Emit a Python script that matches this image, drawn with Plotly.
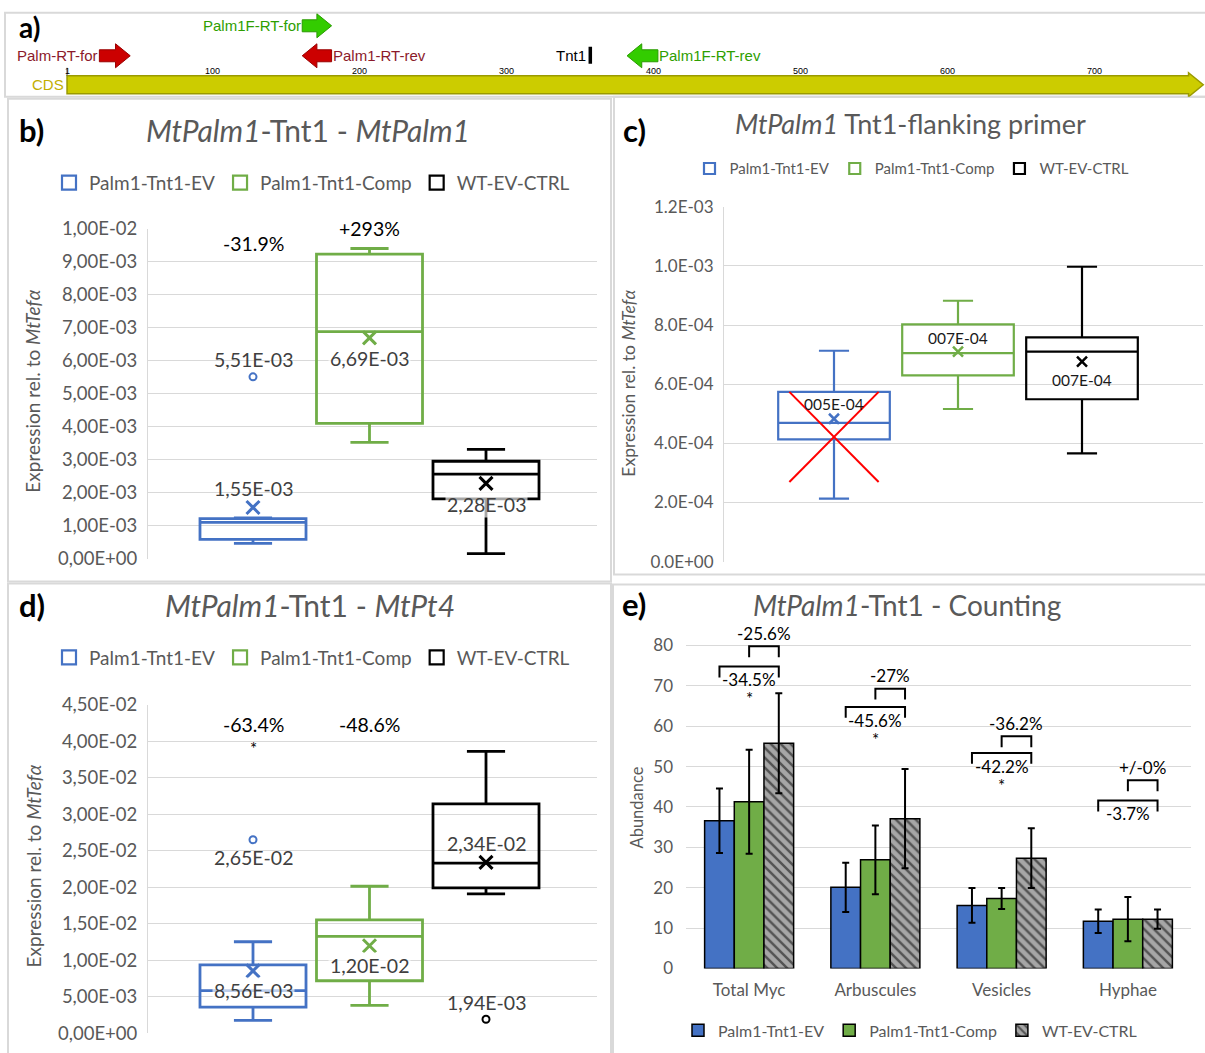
import plotly.graph_objects as go

W, H = 1205, 1053
FONT = "Lato"
ARIAL = "Liberation Sans"
TXT = "#595959"
LBL = "#404040"
GRID = "#d9d9d9"
BLUE, GREEN, BLACK = "#4472C4", "#70AD47", "#000000"

# ---------------- data ----------------
groups = ["Palm1-Tnt1-EV", "Palm1-Tnt1-Comp", "WT-EV-CTRL"]
group_colors = [BLUE, GREEN, BLACK]

# (a) MtPalm1 coding sequence, positions in bp
cds_length = 774
cds_ticks = [1, 100, 200, 300, 400, 500, 600, 700]
primer_names = ["Palm-RT-for", "Palm1F-RT-for", "Palm1-RT-rev", "Palm1F-RT-rev"]
primer_start = [23, 161, 161, 382]
primer_end = [44, 181, 181, 403]
primer_strand = [1, 1, -1, -1]
primer_pair = ["RT", "flanking", "RT", "flanking"]
tnt1_insertion = 357

# (b) MtPalm1 expression (box statistics)
b_low = [0.46e-3, 3.52e-3, 0.15e-3]
b_q1 = [0.58e-3, 4.10e-3, 1.81e-3]
b_median = [1.10e-3, 6.88e-3, 2.56e-3]
b_q3 = [1.21e-3, 9.23e-3, 2.95e-3]
b_high = [1.23e-3, 9.40e-3, 3.31e-3]
b_mean = [1.55e-3, 6.69e-3, 2.28e-3]
b_outliers = [[5.51e-3], [], []]
b_change = ["-31.9%", "+293%", None]
b_tickvals = [0, 1e-3, 2e-3, 3e-3, 4e-3, 5e-3, 6e-3, 7e-3, 8e-3, 9e-3, 1e-2]
b_ticktext = ["0,00E+00", "1,00E-03", "2,00E-03", "3,00E-03", "4,00E-03", "5,00E-03",
              "6,00E-03", "7,00E-03", "8,00E-03", "9,00E-03", "1,00E-02"]

# (c) Tnt1-flanking primer expression
c_low = [2.13e-4, 5.16e-4, 3.66e-4]
c_q1 = [4.13e-4, 6.30e-4, 5.49e-4]
c_median = [4.69e-4, 7.05e-4, 7.10e-4]
c_q3 = [5.74e-4, 8.02e-4, 7.58e-4]
c_high = [7.13e-4, 8.82e-4, 9.97e-4]
c_mean = [4.83e-4, 7.10e-4, 6.76e-4]
c_labels = ["005E-04", "007E-04", "007E-04"]
c_excluded = [True, False, False]
c_cross_low = 2.69e-4
c_tickvals = [0, 2e-4, 4e-4, 6e-4, 8e-4, 1e-3, 1.2e-3]
c_ticktext = ["0.0E+00", "2.0E-04", "4.0E-04", "6.0E-04", "8.0E-04", "1.0E-03", "1.2E-03"]

# (d) MtPt4 expression
d_low = [1.77e-3, 3.82e-3, 1.91e-2]
d_q1 = [3.60e-3, 7.20e-3, 1.99e-2]
d_median = [5.86e-3, 1.328e-2, 2.33e-2]
d_q3 = [9.37e-3, 1.554e-2, 3.14e-2]
d_high = [1.254e-2, 2.013e-2, 3.86e-2]
d_mean = [8.56e-3, 1.20e-2, 2.34e-2]
d_outliers = [[2.65e-2], [], [1.94e-3]]
d_change = ["-63.4%", "-48.6%", None]
d_significant = [True, False, False]
d_tickvals = [0, 5e-3, 1e-2, 1.5e-2, 2e-2, 2.5e-2, 3e-2, 3.5e-2, 4e-2, 4.5e-2]
d_ticktext = ["0,00E+00", "5,00E-03", "1,00E-02", "1,50E-02", "2,00E-02", "2,50E-02",
              "3,00E-02", "3,50E-02", "4,00E-02", "4,50E-02"]

# (e) colonisation counting
e_categories = ["Total Myc", "Arbuscules", "Vesicles", "Hyphae"]
e_mean = [[36.6, 20.1, 15.6, 11.7],
          [41.3, 26.9, 17.3, 12.2],
          [55.8, 37.1, 27.3, 12.2]]
e_sd = [[8.0, 6.1, 4.3, 2.9],
        [12.9, 8.5, 2.6, 5.5],
        [12.4, 12.3, 7.4, 2.4]]
e_comp_vs_wt = ["-25.6%", "-27%", "-36.2%", "+/-0%"]
e_ev_vs_wt = ["-34.5%", "-45.6%", "-42.2%", "-3.7%"]
e_ev_significant = [True, True, True, False]

# ---------------- layout helpers (screen pixel -> paper) ----------------
V_SCALE, V_OFF = 0.9795, 10.2


def px(x):
    return x / W


def py(y):
    return 1 - ((y - V_OFF) / V_SCALE) / H


def clamp(v):
    return max(0.0, min(1.0, v))


def dom_x(a, b):
    return [a / W, b / W]


def dom_y(top, bottom):
    return [clamp(py(bottom)), clamp(py(top))]


fig = go.Figure()
annotations = []
shapes = []


def note(x, y, text, size, color=TXT, xref="paper", yref="paper", **kw):
    kw.setdefault("xanchor", "center")
    kw.setdefault("yanchor", "middle")
    annotations.append(dict(x=x, y=y, xref=xref, yref=yref, text=text, showarrow=False,
                            font=dict(family=kw.pop("family", FONT), size=size, color=color), **kw))


# ---------------- panel frames ----------------
for (x0, y0, x1, y1) in [(5, 11, 1210, 95), (8, 97, 611, 580), (614, 95, 1210, 573),
                         (8, 582, 611, 1075), (613, 583, 1210, 1075)]:
    shapes.append(dict(type="rect", xref="paper", yref="paper", x0=px(x0), x1=px(x1),
                       y0=py(y1), y1=min(py(y0), 0.9995), line=dict(color=GRID, width=2),
                       layer="below"))

# ---------------- (a) gene model ----------------
AX, AY = "x5", "y5"
A_TOP, A_BOTTOM = 11, 95
HEAD = 10  # arrow head length in bp
shapes.append(dict(type="path", xref=AX, yref=AY,
                   path=(f"M 1,74 L {cds_length - HEAD},74 L {cds_length - HEAD},71 L {cds_length},83 "
                         f"L {cds_length - HEAD},95 L {cds_length - HEAD},92 L 1,92 Z"),
                   fillcolor="#CCCC00", line=dict(color="#9A9A00", width=1.5)))
note(1, 83, "CDS", 15, "#C2AE00", AX, AY, family=ARIAL, xanchor="right", xshift=-1)
for t in cds_ticks:
    note(t, 69, str(t), 9, "#000000", AX, AY, family=ARIAL)
shapes.append(dict(type="line", xref=AX, yref=AY, x0=1, x1=1, y0=66, y1=74,
                   line=dict(color="#555555", width=1)))

# stack overlapping primers into lanes (lane 0 lowest)
lane_y = [54, 24]
occupied = {}
lane_of = {}
for i in sorted(range(len(primer_names)), key=lambda k: (primer_start[k], primer_strand[k])):
    lane = 0
    while any(not (primer_end[i] < s or primer_start[i] > e) for s, e in occupied.get(lane, [])):
        lane += 1
    occupied.setdefault(lane, []).append((primer_start[i], primer_end[i]))
    lane_of[i] = lane

pair_style = {"RT": ("#CC0000", "#990000", "#8B1A2B"),
              "flanking": ("#33CC00", "#2A9A00", "#2E9E00")}
for i, name in enumerate(primer_names):
    s, e = primer_start[i], primer_end[i]
    y = lane_y[lane_of[i]]
    fill, edge, txt = pair_style[primer_pair[i]]
    if primer_strand[i] > 0:
        path = (f"M {s},{y - 6} L {e - HEAD},{y - 6} L {e - HEAD},{y - 12} L {e},{y} "
                f"L {e - HEAD},{y + 12} L {e - HEAD},{y + 6} L {s},{y + 6} Z")
        note(s, y, name, 15, txt, AX, AY, family=ARIAL, xanchor="right", xshift=1)
    else:
        path = (f"M {e},{y - 6} L {s + HEAD},{y - 6} L {s + HEAD},{y - 12} L {s},{y} "
                f"L {s + HEAD},{y + 12} L {s + HEAD},{y + 6} L {e},{y + 6} Z")
        note(e, y, name, 15, txt, AX, AY, family=ARIAL, xanchor="left", xshift=-1)
    shapes.append(dict(type="path", xref=AX, yref=AY, path=path, fillcolor=fill,
                       line=dict(color=edge, width=1)))

shapes.append(dict(type="rect", xref=AX, yref=AY, x0=tnt1_insertion - 1.2, x1=tnt1_insertion + 1.2,
                   y0=45, y1=62, fillcolor="#000000", line=dict(width=0)))
note(tnt1_insertion - 1.5, 54, "Tnt1", 15, "#000000", AX, AY, family=ARIAL, xanchor="right")

# ---------------- box panels ----------------
def box_panel(xa, ya, leg, low, q1, med, q3, high, mean, outliers, width, lw, cap,
              msize, mwidth, osize):
    for i, g in enumerate(groups):
        c = group_colors[i]
        fig.add_trace(go.Box(x=[i], q1=[q1[i]], median=[med[i]], q3=[q3[i]],
                             lowerfence=[low[i]], upperfence=[high[i]], width=width,
                             whiskerwidth=cap, boxpoints=False, fillcolor="rgba(0,0,0,0)",
                             line=dict(color=c, width=lw), name=g, showlegend=False,
                             xaxis=xa, yaxis=ya, hoverinfo="skip"))
        fig.add_trace(go.Scatter(x=[i], y=[mean[i]], mode="markers", showlegend=False,
                                 marker=dict(symbol="x-thin", size=msize, color=c,
                                             line=dict(color=c, width=mwidth)),
                                 xaxis=xa, yaxis=ya, hoverinfo="skip"))
        if outliers[i]:
            fig.add_trace(go.Scatter(x=[i] * len(outliers[i]), y=outliers[i], mode="markers",
                                     showlegend=False,
                                     marker=dict(symbol="circle-open", size=osize, color=c,
                                                 line=dict(color=c, width=2)),
                                     xaxis=xa, yaxis=ya, hoverinfo="skip"))
        # legend entry
        fig.add_trace(go.Scatter(x=[None], y=[None], mode="markers", name=g, legend=leg,
                                 marker=dict(symbol="square-open", size=14 if leg != "legend2" else 11,
                                             color=c, line=dict(color=c, width=2.2)),
                                 xaxis=xa, yaxis=ya))


def sci_comma(v):
    return f"{v:.2E}".replace(".", ",")


LABEL_BG = "rgba(255,255,255,0.65)"
VAL = 19.5   # value labels in b / d
PCT = 19.5   # percentage labels in b / d

# (b)
box_panel("x", "y", "legend", b_low, b_q1, b_median, b_q3, b_high, b_mean, b_outliers,
          0.91, 2.8, 0.36, 13, 3, 7)
mean_above_b = [True, False, False]
for i in range(3):
    note(i, b_mean[i], sci_comma(b_mean[i]), VAL, LBL, "x", "y",
         yshift=19 if mean_above_b[i] else -21, bgcolor=LABEL_BG if not mean_above_b[i] else None)
    for o in b_outliers[i]:
        note(i, o, sci_comma(o), VAL, LBL, "x", "y", yshift=17)
b_change_y = [9.55e-3, 1.0e-2]
for i, t in enumerate(b_change):
    if t:
        note(i, b_change_y[i], t, PCT, "#000000", "x", "y")

# (c)
box_panel("x2", "y2", "legend2", c_low, c_q1, c_median, c_q3, c_high, c_mean, [[], [], []],
          0.9, 2.2, 0.27, 10, 2.5, 6)
c_label_shift = [15, 14, -18]
for i in range(3):
    note(i, c_mean[i], c_labels[i], 15.5, "#1a1a1a", "x2", "y2", yshift=c_label_shift[i])
    if c_excluded[i]:
        hw = 0.9 / 2 * 0.8
        fig.add_trace(go.Scatter(x=[i - hw, i + hw, None, i + hw, i - hw],
                                 y=[c_q3[i], c_cross_low, None, c_q3[i], c_cross_low],
                                 mode="lines", line=dict(color="#FF0000", width=2),
                                 showlegend=False, xaxis="x2", yaxis="y2", hoverinfo="skip"))

# (d)
box_panel("x3", "y3", "legend3", d_low, d_q1, d_median, d_q3, d_high, d_mean, d_outliers,
          0.91, 2.8, 0.36, 13, 3, 7)
mean_above_d = [False, False, True]
for i in range(3):
    note(i, d_mean[i], sci_comma(d_mean[i]), VAL, LBL, "x3", "y3",
         yshift=19 if mean_above_d[i] else -20, bgcolor=LABEL_BG if not mean_above_d[i] else None)
    for o in d_outliers[i]:
        above = o < d_q1[i]
        note(i, o, sci_comma(o), VAL, LBL, "x3", "y3", yshift=17 if above else -18)
for i, t in enumerate(d_change):
    if t:
        note(i, 4.22e-2, t, PCT, "#000000", "x3", "y3")
    if d_significant[i]:
        note(i, 3.9e-2, "*", 17, "#000000", "x3", "y3")

# ---------------- (e) bar chart ----------------
bar_style = [dict(color=BLUE), dict(color=GREEN),
             dict(color="#A6A6A6", pattern=dict(shape="\\", fgcolor="#000000", bgcolor="#A6A6A6",
                                                 size=7, solidity=0.35, fillmode="overlay"))]
for k, g in enumerate(groups):
    fig.add_trace(go.Bar(x=list(range(len(e_categories))), y=e_mean[k], name=g,
                         marker=dict(line=dict(color="#000000", width=1.5), **bar_style[k]),
                         error_y=dict(type="data", array=e_sd[k], color="#000000",
                                      thickness=2, width=3.5),
                         offsetgroup=str(k), legend="legend4", xaxis="x4", yaxis="y4"))

BW = (1 - 0.295) / 3  # single bar width in category units
upper_h = [79.8, 69.3, 57.5, 46.6]
lower_h = [74.8, 64.8, 53.4, 41.6]
LEG = 2.7
bx, by = [], []
for i in range(len(e_categories)):
    for x0, x1, h in [(i, i + BW, upper_h[i]), (i - BW, i + BW, lower_h[i])]:
        bx += [x0, x0, x1, x1, None]
        by += [h - LEG, h, h, h - LEG, None]
    note(i + BW / 2, upper_h[i] + 3.3, e_comp_vs_wt[i], 17, "#000000", "x4", "y4")
    note(i, lower_h[i] - 3.3, e_ev_vs_wt[i], 17, "#000000", "x4", "y4")
    if e_ev_significant[i]:
        note(i, lower_h[i] - 8.0, "*", 17, "#000000", "x4", "y4")
fig.add_trace(go.Scatter(x=bx, y=by, mode="lines", line=dict(color="#000000", width=2),
                         showlegend=False, xaxis="x4", yaxis="y4", hoverinfo="skip"))

# ---------------- titles, panel letters, axis titles ----------------
note(px(29), py(25), "<b>a)</b>", 28, "#000000")
for x, y, t in [(31, 128, "b)"), (634, 128, "c)"), (32, 603, "d)"), (634, 602, "e)")]:
    note(px(x), py(y), f"<b>{t}</b>", 31, "#000000")
note(px(308), py(128), "<i>MtPalm1</i>-Tnt1 - <i>MtPalm1</i>", 30)
note(px(910), py(122), "<i>MtPalm1</i> Tnt1-flanking primer", 27)
note(px(310), py(603), "<i>MtPalm1</i>-Tnt1 - <i>MtPt4</i>", 30)
note(px(907), py(603), "<i>MtPalm1</i>-Tnt1 - Counting", 28)
ytitle = "Expression rel. to <i>MtTefα</i>"
note(px(33), py(390), ytitle, 19, textangle=-90)
note(px(629), py(382), ytitle, 17.5, textangle=-90)
note(px(33), py(865), ytitle, 19, textangle=-90)
note(px(637), py(806), "Abundance", 16.5, textangle=-90)

# ---------------- axes ----------------
def yax(anchor, domain, rng, tickvals=None, ticktext=None, size=17, line=True):
    d = dict(anchor=anchor, domain=domain, range=rng, showgrid=True, gridcolor=GRID, gridwidth=1,
             zeroline=False, showline=line, linecolor=GRID, linewidth=1, ticks="",
             tickfont=dict(family=FONT, size=size, color=TXT), fixedrange=True,
             ticklabelstandoff=6)
    if tickvals is not None:
        d.update(tickmode="array", tickvals=tickvals, ticktext=ticktext)
    return d


def xax(anchor, domain, rng):
    return dict(anchor=anchor, domain=domain, range=rng, visible=False, fixedrange=True)


legend_common = dict(orientation="h", xanchor="center", yanchor="middle",
                     bgcolor="rgba(0,0,0,0)", itemclick=False, itemdoubleclick=False)

E_TOP = 84  # headroom above the 80 gridline for the bracket labels
e_px_per_unit = (967 - 644) / 80

fig.update_layout(
    width=W, height=H, margin=dict(l=0, r=0, t=0, b=0),
    paper_bgcolor="white", plot_bgcolor="white",
    font=dict(family=FONT, color=TXT),
    boxmode="overlay", barmode="group", bargap=0.295, bargroupgap=0,
    showlegend=True,
    xaxis=xax("y", dom_x(148, 597), [(148 - 253) / 116.5, (597 - 253) / 116.5]),
    yaxis=yax("x", dom_y(227, 557), [0, 0.01], b_tickvals, b_ticktext, size=18.5),
    xaxis2=xax("y2", dom_x(724, 1203), [(724 - 834) / 124, (1203 - 834) / 124]),
    yaxis2=yax("x2", dom_y(205, 560), [0, 1.2e-3], c_tickvals, c_ticktext, size=17),
    xaxis3=xax("y3", dom_x(148, 597), [(148 - 253) / 116.5, (597 - 253) / 116.5]),
    yaxis3=yax("x3", dom_y(703, 1032), [0, 0.045], d_tickvals, d_ticktext, size=18.5),
    xaxis4=dict(anchor="y4", domain=dom_x(686, 1191), range=[-0.5, len(e_categories) - 0.5],
                tickmode="array", tickvals=list(range(len(e_categories))), ticktext=e_categories,
                showgrid=False, zeroline=False, showline=False, ticks="",
                tickfont=dict(family=FONT, size=17, color=TXT), ticklabelstandoff=10,
                fixedrange=True),
    yaxis4=dict(anchor="x4", domain=dom_y(644 - (E_TOP - 80) * e_px_per_unit, 967),
                range=[0, E_TOP], tickmode="array", tickvals=list(range(0, 81, 10)),
                showgrid=True, gridcolor=GRID,
                zeroline=False, showline=False, ticks="", ticklabelstandoff=12,
                tickfont=dict(family=FONT, size=17, color=TXT), fixedrange=True),
    xaxis5=dict(anchor="y5", domain=[0, 1], range=[-44.6, 775.2], visible=False, fixedrange=True),
    yaxis5=dict(anchor="x5", domain=dom_y(A_TOP, A_BOTTOM), range=[A_BOTTOM, A_TOP],
                visible=False, fixedrange=True),
    legend=dict(x=px(312), y=py(181), font=dict(family=FONT, size=19, color=TXT), **legend_common),
    legend2=dict(x=px(912), y=py(167), font=dict(family=FONT, size=15, color=TXT), **legend_common),
    legend3=dict(x=px(312), y=py(656), font=dict(family=FONT, size=19, color=TXT), **legend_common),
    legend4=dict(x=px(910), y=py(1029), font=dict(family=FONT, size=16, color=TXT), **legend_common),
    annotations=annotations,
    shapes=shapes,
)

fig.write_html("out.html")
